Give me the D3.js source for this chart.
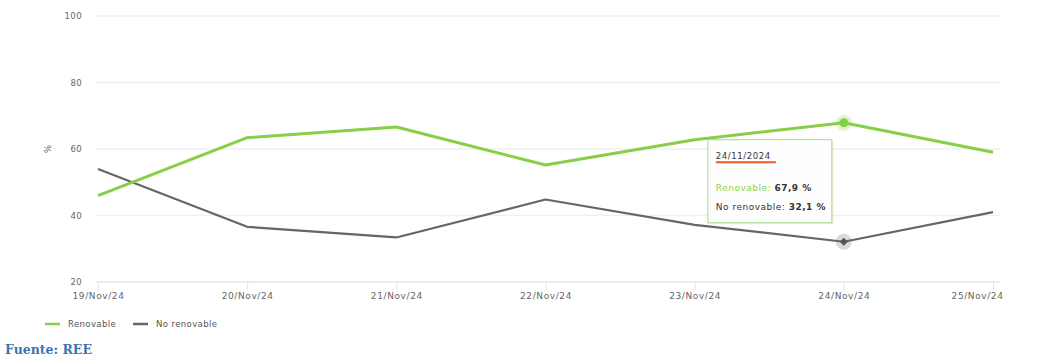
<!DOCTYPE html>
<html><head><meta charset="utf-8">
<script src="https://cdn.jsdelivr.net/npm/d3@7"></script>
<style>
body{margin:0;background:#fff;}
svg{display:block;}
</style></head>
<body>
<svg id="chart" width="1041" height="361"></svg>
<script>
const categories = ["19/Nov/24","20/Nov/24","21/Nov/24","22/Nov/24","23/Nov/24","24/Nov/24","25/Nov/24"];
const renovable = [46.0, 63.4, 66.6, 55.2, 62.8, 67.9, 59.0];
const noRenovable = [54.0, 36.6, 33.4, 44.8, 37.2, 32.1, 41.0];
const yTicks = [20, 40, 60, 80, 100];
const seriesNames = ["Renovable", "No renovable"];
const seriesColors = ["#86cf46", "#666666"];
const tooltipDate = "24/11/2024";
const tooltipIndex = 5;

const svg = d3.select("#chart");
const font = "'DejaVu Sans', Verdana, sans-serif";
const m = {left: 96, right: 1000, top: 16, bottom: 282};

const x = d3.scalePoint().domain(categories).range([98, 993]);
const y = d3.scaleLinear().domain([20, 100]).range([m.bottom, m.top]);

// grid
svg.append("g").selectAll("line").data(yTicks.slice(1)).join("line")
  .attr("x1", m.left).attr("x2", m.right)
  .attr("y1", d => y(d)).attr("y2", d => y(d))
  .attr("stroke", "#f0f0f0").attr("stroke-width", 1.5);

// y axis labels
const yAxis = d3.axisLeft(y).tickValues(yTicks).tickSize(0).tickPadding(0);
const yg = svg.append("g").attr("transform", `translate(82,0)`).call(yAxis);
yg.select(".domain").remove();
yg.selectAll("text").attr("font-family", font).attr("font-size", 8.5).attr("fill", "#666")
  .attr("letter-spacing", 0.4).attr("dy", "0.32em");

// y title
svg.append("text").attr("transform", `translate(48,${y(60)}) rotate(-90)`)
  .attr("text-anchor", "middle").attr("dy", "0.35em")
  .attr("font-family", font).attr("font-size", 8.5).attr("fill", "#555").text("%");

// x axis
svg.append("line").attr("x1", m.left).attr("x2", m.right).attr("y1", m.bottom).attr("y2", m.bottom)
  .attr("stroke", "#e3e7f2").attr("stroke-width", 1.5);
const xAxis = d3.axisBottom(x).tickSize(8).tickPadding(3);
const xg = svg.append("g").attr("transform", `translate(0,${m.bottom})`).call(xAxis);
xg.select(".domain").remove();
xg.selectAll(".tick line").attr("stroke", "#e3e7f2").attr("stroke-width", 1);
xg.selectAll("text").attr("font-family", font).attr("font-size", 9).attr("fill", "#666")
  .attr("letter-spacing", 0.6);
// keep last label inside the plot, like the original
xg.selectAll(".tick").filter((d, i, n) => i === n.length - 1).select("text")
  .attr("text-anchor", "end").attr("x", 10);

// lines
const line = d3.line().x((d, i) => x(categories[i])).y(d => y(d));
svg.append("path").datum(noRenovable).attr("d", line).attr("fill", "none")
  .attr("stroke", seriesColors[1]).attr("stroke-width", 2.2).attr("stroke-linejoin", "round");
svg.append("path").datum(renovable).attr("d", line).attr("fill", "none")
  .attr("stroke", seriesColors[0]).attr("stroke-width", 3).attr("stroke-linejoin", "round");

// hover markers
const hx = x(categories[tooltipIndex]);
svg.append("circle").attr("cx", hx).attr("cy", y(renovable[tooltipIndex])).attr("r", 8)
  .attr("fill", seriesColors[0]).attr("opacity", 0.25);
svg.append("circle").attr("cx", hx).attr("cy", y(renovable[tooltipIndex])).attr("r", 4.5)
  .attr("fill", seriesColors[0]);
svg.append("circle").attr("cx", hx).attr("cy", y(noRenovable[tooltipIndex])).attr("r", 8)
  .attr("fill", "#666").attr("opacity", 0.25);
svg.append("path").attr("transform", `translate(${hx},${y(noRenovable[tooltipIndex])})`)
  .attr("d", "M0,-4L4,0L0,4L-4,0Z").attr("fill", "#555");

// tooltip
const tt = svg.append("g").attr("transform", `translate(${hx - 136},${y(renovable[tooltipIndex]) + 17})`);
tt.append("rect").attr("x", 1.5).attr("y", 1.5).attr("width", 124).attr("height", 83)
  .attr("fill", "#000").attr("opacity", 0.07);
tt.append("rect").attr("x", 0).attr("y", 0).attr("width", 124).attr("height", 83)
  .attr("fill", "#fff").attr("fill-opacity", 0.95).attr("stroke", "#a6d98a").attr("stroke-width", 1);
tt.append("text").attr("x", 8).attr("y", 19).attr("font-family", font).attr("font-size", 8.5)
  .attr("letter-spacing", 0.6).attr("fill", "#333").text(tooltipDate);
tt.append("line").attr("x1", 8).attr("x2", 68).attr("y1", 22.5).attr("y2", 22.5)
  .attr("stroke", "#f05a22").attr("stroke-width", 2);
const fmt = v => d3.format(".1f")(v).replace(".", ",") + " %";
const t1 = tt.append("text").attr("x", 8).attr("y", 51).attr("font-family", font).attr("font-size", 9)
  .attr("letter-spacing", 0.5);
t1.append("tspan").attr("fill", "#8bd14a").text(seriesNames[0] + ": ");
t1.append("tspan").attr("fill", "#333").attr("font-weight", "bold").text(fmt(renovable[tooltipIndex]));
const t2 = tt.append("text").attr("x", 8).attr("y", 70).attr("font-family", font).attr("font-size", 9)
  .attr("letter-spacing", 0.5);
t2.append("tspan").attr("fill", "#333").text(seriesNames[1] + ": ");
t2.append("tspan").attr("fill", "#333").attr("font-weight", "bold").text(fmt(noRenovable[tooltipIndex]));

// legend
const legendX = [45, 133];
seriesNames.forEach((n, i) => {
  const g = svg.append("g").attr("transform", `translate(${legendX[i]},324)`);
  g.append("line").attr("x1", 0).attr("x2", 15).attr("y1", 0).attr("y2", 0)
    .attr("stroke", seriesColors[i]).attr("stroke-width", 2.5);
  g.append("text").attr("x", 23).attr("y", 0).attr("dy", "0.35em")
    .attr("font-family", font).attr("font-size", 8.5).attr("letter-spacing", 0.4)
    .attr("fill", "#555").text(n);
});

// source
svg.append("text").attr("x", 5).attr("y", 354)
  .attr("font-family", "'DejaVu Serif', 'Liberation Serif', serif").attr("font-weight", "bold")
  .attr("font-size", 12.5).attr("fill", "#3d72b4").text("Fuente: REE");
</script>
</body></html>
